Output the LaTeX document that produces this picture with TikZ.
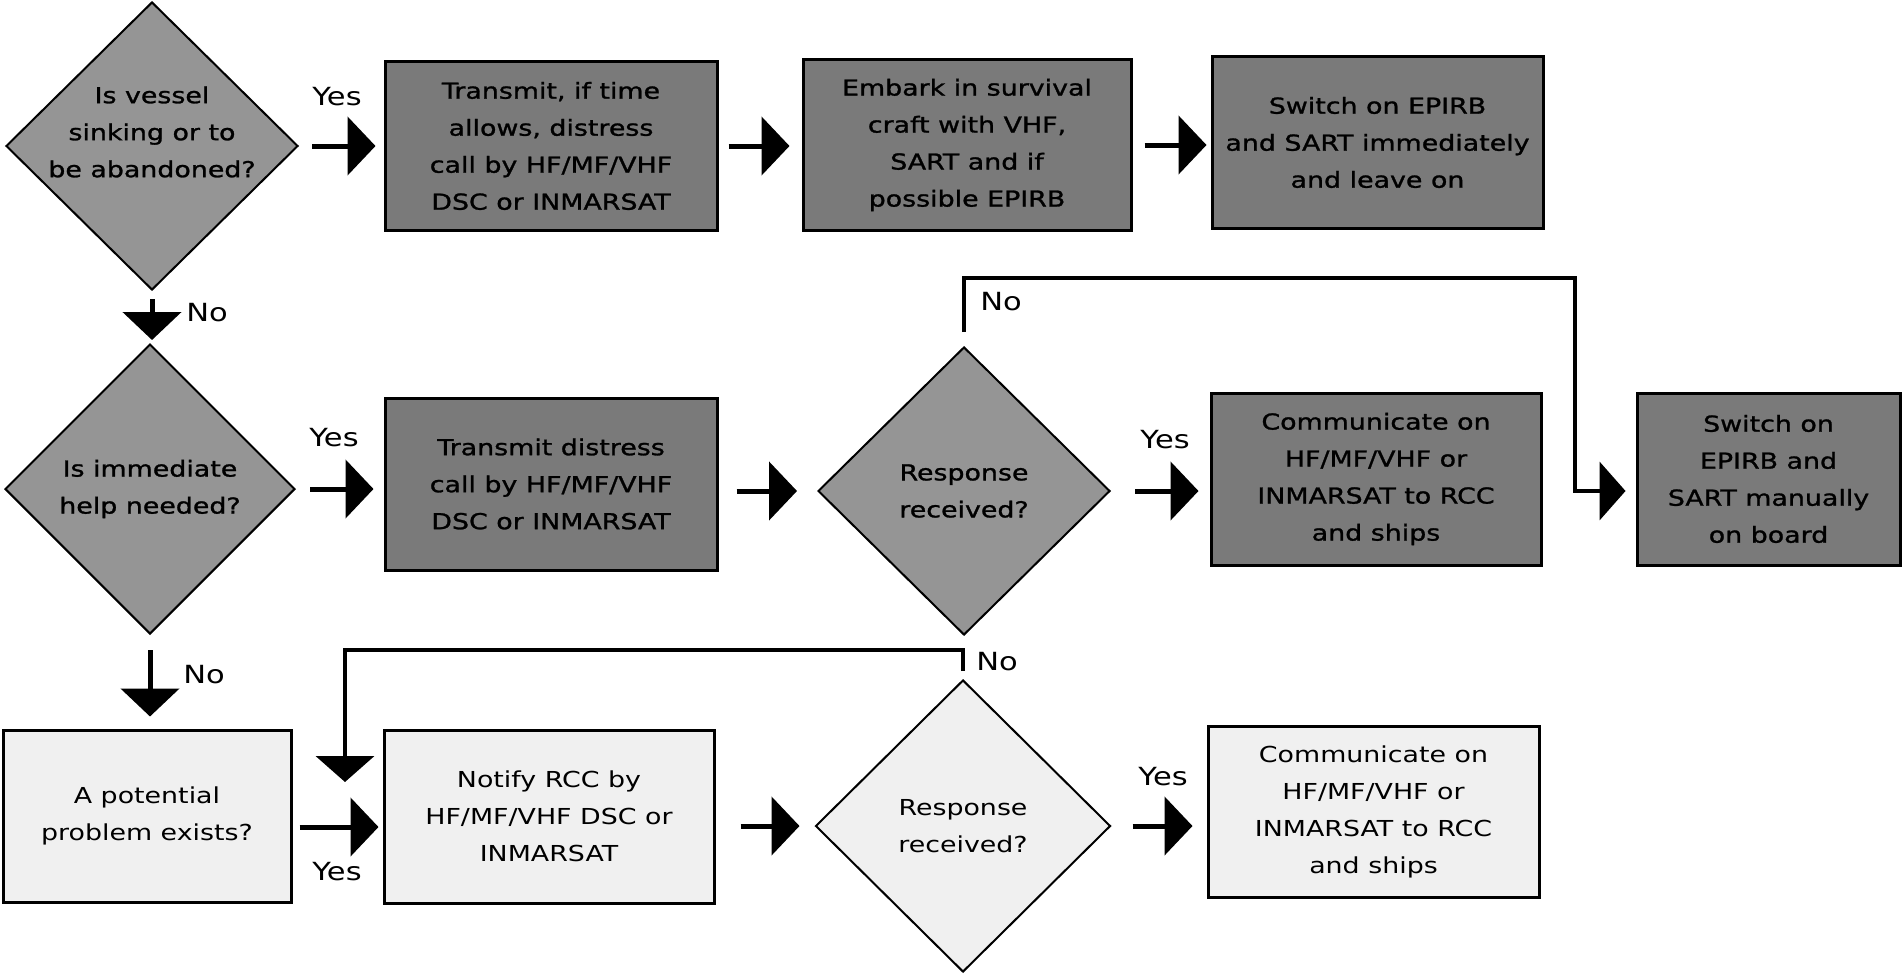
\documentclass[tikz,border=0pt]{standalone}
\usepackage{fontspec}
\setmainfont{DejaVu Sans}[FakeStretch=1.22]
\newfontfamily\darkfont{DejaVu Sans}[FakeStretch=1.22, FakeBold=1.2]
\usetikzlibrary{shapes.geometric,arrows.meta}
\definecolor{darkfill}{HTML}{7A7A7A}
\definecolor{decfill}{HTML}{959595}
\definecolor{lightfill}{HTML}{F0F0F0}
\begin{document}
\begin{tikzpicture}[x=0.5pt,y=-0.5pt,
  box/.style={draw=black, line width=1.5pt, inner sep=0pt, align=center},
  darkbox/.style={box, fill=darkfill, font=\darkfont\fontsize{11}{18.5}\selectfont},
  lightbox/.style={box, fill=lightfill, font=\fontsize{11}{18.5}\selectfont},
  dec/.style={diamond, draw=black, line width=1pt, inner sep=0pt},
  dectext/.style={align=center, font=\darkfont\fontsize{11}{18.5}\selectfont, inner sep=0pt},
  lighttext/.style={align=center, font=\fontsize{11}{18.5}\selectfont, inner sep=0pt},
  flow/.style={line width=2.5pt, -{Triangle[length=14pt,width=29pt]}},
  loopflow/.style={line width=2.2pt, -{Triangle[length=13pt,width=29pt]}},
  lbl/.style={font=\fontsize{12.5}{14}\selectfont, inner sep=0pt}]

\fill[white] (0,0) rectangle (1904,974);
\useasboundingbox (0,0) rectangle (1904,974);

% ---- row 1
\node[dec, fill=decfill, minimum width=146pt, minimum height=144pt,
  label={[dectext, yshift=7pt]center:Is vessel\\sinking or to\\be abandoned?}] (D1) at (152,146) {};
\node[darkbox, minimum width=166pt, minimum height=84pt] (B1) at (551,146)
  {Transmit, if time\\allows, distress\\call by HF/MF/VHF\\DSC or INMARSAT};
\node[darkbox, minimum width=164pt, minimum height=85pt] (B3) at (967,145)
  {Embark in survival\\craft with VHF,\\SART and if\\possible EPIRB};
\node[darkbox, minimum width=165.5pt, minimum height=85.5pt] (B4) at (1377.5,142.5)
  {Switch on EPIRB\\and SART immediately\\and leave on};

% ---- row 2
\node[dec, fill=decfill, minimum width=145pt, minimum height=145pt,
  label={[dectext]center:Is immediate\\help needed?}] (D2) at (150,489) {};
\node[darkbox, minimum width=166pt, minimum height=86pt] (B2) at (551,484)
  {Transmit distress\\call by HF/MF/VHF\\DSC or INMARSAT};
\node[dec, fill=decfill, minimum width=146pt, minimum height=144pt,
  label={[dectext]center:Response\\received?}] (D3) at (964,491) {};
\node[darkbox, minimum width=165pt, minimum height=86pt] (B5) at (1376,479)
  {Communicate on\\HF/MF/VHF or\\INMARSAT to RCC\\and ships};
\node[darkbox, minimum width=131.5pt, minimum height=86pt] (B6) at (1768.5,479)
  {Switch on\\EPIRB and\\SART manually\\on board};

% ---- row 3
\node[lightbox, minimum width=144pt, minimum height=86pt] (B7) at (147,816)
  {A potential\\problem exists?};
\node[lightbox, minimum width=165pt, minimum height=86.5pt] (B8) at (549,816.5)
  {Notify RCC by\\HF/MF/VHF DSC or\\INMARSAT};
\node[dec, fill=lightfill, minimum width=147.5pt, minimum height=146pt,
  label={[lighttext]center:Response\\received?}] (D4) at (963,826) {};
\node[lightbox, minimum width=165.5pt, minimum height=85.5pt] (B9) at (1373.5,811.5)
  {Communicate on\\HF/MF/VHF or\\INMARSAT to RCC\\and ships};

% ---- helper coordinates
\coordinate (r3) at (0,827);
\coordinate (L2turn) at (1575,278);
\coordinate (L3turn) at (345,650);
\coordinate (L3end) at (345,782);

% ---- connectors
\draw[flow, shorten <=6.5pt, shorten >=4pt] (D1.east) -- (D1.east -| B1.west);
\draw[flow, shorten <=5pt, shorten >=6pt] (B1.east) -- (B1.east -| B3.west);
\draw[flow, shorten <=6pt, shorten >=2pt] (B3.east) -- (B3.east -| B4.west);
\draw[flow, shorten <=4pt, shorten >=1.5pt] (D1.south) -- (D1.south |- D2.north);

\draw[flow, shorten <=7pt, shorten >=5pt] (D2.east) -- (D2.east -| B2.west);
\draw[flow, shorten <=9pt, shorten >=10pt] (B2.east |- D3.west) -- (D3.west);
\draw[flow, shorten <=12pt, shorten >=5.5pt] (D3.east) -- (D3.east -| B5.west);
\draw[loopflow, shorten <=7pt, shorten >=5pt] (D3.north) |- (L2turn) |- (D3.east -| B6.west);
\draw[flow, shorten <=7.5pt, shorten >=6pt] (D2.south) -- (D2.south |- B7.north);

\draw[flow, shorten <=3.5pt, shorten >=2pt] (B7.east |- r3) -- (B8.west |- r3);
\draw[flow, shorten <=12.5pt, shorten >=7.5pt] (B8.east |- D4.west) -- (D4.west);
\draw[flow, shorten <=10.5pt, shorten >=7pt] (D4.east) -- (D4.east -| B9.west);
\draw[loopflow, shorten <=4pt] (D4.north) |- (L3turn) -- (L3end);

% ---- labels
\node[lbl] (y1) at (337,97) {Yes};
\node[lbl] (y2) at (334,438) {Yes};
\node[lbl] (y3) at (1165,440) {Yes};
\node[lbl] (y4) at (337,872) {Yes};
\node[lbl] (y5) at (1163,777) {Yes};
\node[lbl] (n1) at (207,313) {No};
\node[lbl] (n2) at (204,675) {No};
\node[lbl] (n3) at (1001,302) {No};
\node[lbl] (n4) at (997,662) {No};
\end{tikzpicture}
\end{document}
